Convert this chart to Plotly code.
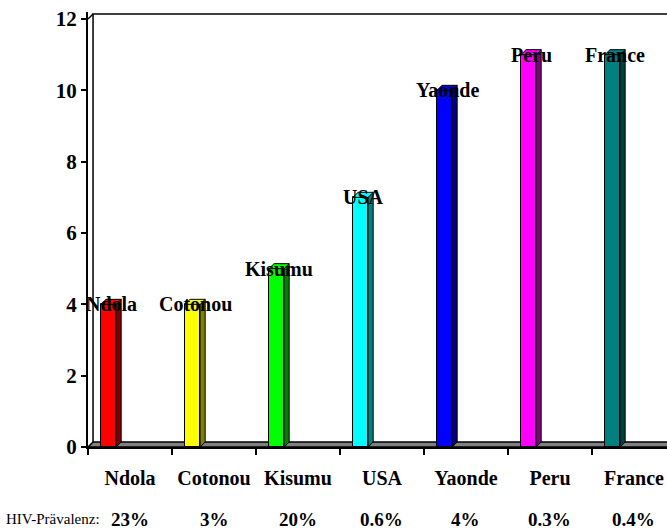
import plotly.graph_objects as go

categories = ["Ndola", "Cotonou", "Kisumu", "USA", "Yaonde", "Peru", "France"]
values = [4, 4, 5, 7, 10, 11, 11]
prevalence = ["23%", "3%", "20%", "0.6%", "4%", "0.3%", "0.4%"]
front_colors = ["#FF0000", "#FFFF00", "#00FF00", "#00FFFF", "#0000FF", "#FF00FF", "#008080"]
side_colors = ["#800000", "#808000", "#008000", "#008080", "#000080", "#800080", "#004040"]
y_ticks = [0, 2, 4, 6, 8, 10, 12]

FONT = "Liberation Serif"
positions = list(range(len(categories)))
bar_w = 0.18
bar_off = -0.345
dx = 0.06   # depth offset in x units
dy = 0.14   # depth offset in y units
x_range = [-0.5, 6.393]
y_range = [0, 12.196]

fig = go.Figure()
fig.add_trace(go.Bar(
    x=positions, y=values, width=bar_w, offset=bar_off,
    marker=dict(color=front_colors, line=dict(color="black", width=1)),
    hoverinfo="skip", showlegend=False,
))

shapes = []
x_end = 7.5
# floor
shapes.append(dict(type="path", xref="x", yref="y", layer="below",
                   path=f"M{x_range[0]},0 L{x_end},0 L{x_end},{dy} L{x_range[0]+dx},{dy} Z",
                   fillcolor="#808080", line=dict(color="black", width=1.5)))
# back wall outline
wx = x_range[0] + dx
shapes.append(dict(type="path", xref="x", yref="y", layer="below",
                   path=f"M{wx},{dy} L{wx},{12+dy} L{x_end},{12+dy}",
                   line=dict(color="black", width=1.5)))
shapes.append(dict(type="line", xref="x", yref="y", layer="below",
                   x0=x_range[0], y0=12, x1=wx, y1=12 + dy,
                   line=dict(color="black", width=1.5)))

annotations = []
for i, v, fc, sc, cat in zip(positions, values, front_colors, side_colors, categories):
    xl = i + bar_off
    xr = xl + bar_w
    # side face
    shapes.append(dict(type="path", xref="x", yref="y", layer="above",
                       path=f"M{xr},0 L{xr+dx},{dy} L{xr+dx},{v+dy} L{xr},{v} Z",
                       fillcolor=sc, line=dict(color="black", width=1)))
    # top face
    shapes.append(dict(type="path", xref="x", yref="y", layer="above",
                       path=f"M{xl},{v} L{xr},{v} L{xr+dx},{v+dy} L{xl+dx},{v+dy} Z",
                       fillcolor=fc, line=dict(color="black", width=1)))
    annotations.append(dict(x=xl + bar_w / 2 + dx / 2, y=v, xref="x", yref="y",
                            text=f"<b>{cat}</b>", showarrow=False,
                            xanchor="center", yanchor="middle",
                            font=dict(family=FONT, size=20, color="black")))

for i, p in zip(positions, prevalence):
    annotations.append(dict(x=i, y=-0.166, xref="x", yref="paper",
                            text=f"<b>{p}</b>", showarrow=False,
                            xanchor="center", yanchor="middle",
                            font=dict(family=FONT, size=19, color="black")))
annotations.append(dict(x=-0.145, y=-0.166, xref="paper", yref="paper",
                        text="HIV-Prävalenz:", showarrow=False,
                        xanchor="left", yanchor="middle",
                        font=dict(family=FONT, size=15, color="black")))

fig.update_layout(
    width=667, height=531,
    margin=dict(l=88, r=0, t=12, b=84),
    paper_bgcolor="white", plot_bgcolor="white",
    shapes=shapes, annotations=annotations,
    bargap=0,
    xaxis=dict(
        range=x_range, tickmode="array", tickvals=positions,
        ticktext=[f"<b>{c}</b>" for c in categories],
        ticks="", showgrid=False, zeroline=False,
        showline=True, linecolor="black", linewidth=2,
        tickfont=dict(family=FONT, size=20, color="black"),
        ticklabelstandoff=12,
        minor=dict(tickmode="array", tickvals=[p - 0.5 for p in positions] + [positions[-1] + 0.5],
                   ticks="outside", ticklen=6, tickcolor="black", tickwidth=1.5),
    ),
    yaxis=dict(
        range=y_range, tickmode="array", tickvals=y_ticks,
        ticktext=[f"<b>{t}</b>" for t in y_ticks],
        ticks="outside", ticklen=5, tickcolor="black", tickwidth=1.5,
        showgrid=False, zeroline=False,
        showline=True, linecolor="black", linewidth=2,
        tickfont=dict(family=FONT, size=21, color="black"),
    ),
)

fig.write_html("out.html", config={"displayModeBar": False},
               post_script="document.body.style.margin='0';document.body.style.overflow='hidden';")
